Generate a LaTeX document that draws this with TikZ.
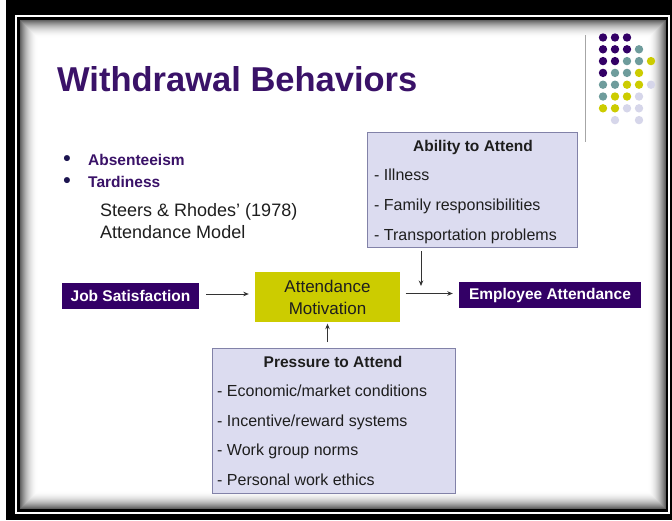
\documentclass[tikz,border=0pt]{standalone}
\usepackage{fontspec}
\setmainfont{Liberation Sans}
\usetikzlibrary{arrows.meta}

\definecolor{deeppurple}{HTML}{330066}
\definecolor{titlepurple}{HTML}{3A1268}
\definecolor{olive}{HTML}{CCCC00}
\definecolor{lavfill}{HTML}{DCDCF0}
\definecolor{lavedge}{HTML}{8282A8}
\definecolor{tealdot}{HTML}{6E9C9C}
\definecolor{lavdot}{HTML}{D6D6EA}
\definecolor{arrowgray}{HTML}{333333}
\definecolor{bodytext}{HTML}{1E1E1E}
\definecolor{bulletnavy}{HTML}{1C1450}

\begin{document}
\begin{tikzpicture}[x=1pt,y=-1pt,
  darkbox/.style={fill=deeppurple, text=white, font=\fontsize{15.5}{18}\selectfont\bfseries,
    inner sep=0pt, minimum height=26pt},
  listbox/.style={fill=lavfill, draw=lavedge, line width=1pt, inner sep=0pt},
  flow/.style={draw=arrowgray, line width=0.9pt, -{Stealth[length=5.5pt,width=4.5pt]}},
  itemtext/.style={anchor=base west, font=\fontsize{16}{19}\selectfont, text=bodytext, inner sep=0pt},
  boxhead/.style={anchor=base, font=\fontsize{15.5}{18}\selectfont\bfseries, text=bodytext, inner sep=0pt},
  bullettext/.style={anchor=base west, font=\fontsize{15.5}{18}\selectfont\bfseries, text=titlepurple, inner sep=0pt},
  bulletmark/.style={anchor=base, font=\fontsize{21}{24}\selectfont\bfseries, text=bulletnavy, inner sep=0pt},
  plaintext/.style={anchor=base west, font=\fontsize{18}{22}\selectfont, text=bodytext, inner sep=0pt}
]
\useasboundingbox (0,0) rectangle (672,520);

% --- slide frame ---
\fill[white] (0,0) rectangle (672,520);
\fill[black] (6,0) rectangle (672,520);
\draw[white, line width=1.6pt] (16,16) rectangle (669,513);
\fill[white] (20,20) rectangle (666,509);
\foreach \i [evaluate=\i as \g using {62*(1-\i/18)^2}] in {0,...,17}
  \draw[black!\g, line width=1.05pt] (20.5+\i,20.5+\i) rectangle (665.5-\i,508.5-\i);

% --- corner decoration: divider and dot grid ---
\draw[gray!70, line width=1pt] (585,35) -- (585,142);
\foreach \r/\c/\col in {
  0/0/deeppurple, 0/1/deeppurple, 0/2/deeppurple,
  1/0/deeppurple, 1/1/deeppurple, 1/2/deeppurple, 1/3/tealdot,
  2/0/deeppurple, 2/1/deeppurple, 2/2/tealdot, 2/3/tealdot, 2/4/olive,
  3/0/deeppurple, 3/1/tealdot, 3/2/tealdot, 3/3/olive,
  4/0/tealdot, 4/1/tealdot, 4/2/olive, 4/3/olive, 4/4/lavdot,
  5/0/tealdot, 5/1/olive, 5/2/olive, 5/3/lavdot,
  6/0/olive, 6/1/olive, 6/2/lavdot, 6/3/lavdot,
  7/1/lavdot, 7/3/lavdot}
  \fill[\col] (603+12*\c, 37.5+11.8*\r) circle[radius=4.2];

% --- title and bullet list ---
\node[anchor=base west, font=\fontsize{34.5}{40}\selectfont\bfseries, text=titlepurple, inner sep=0pt]
  (title) at (57,91) {Withdrawal Behaviors};
\node[bulletmark] (dotA) at (67,165) {•};
\node[bulletmark] (dotB) at (67,187) {•};
\node[bullettext] (absent) at (88,165) {Absenteeism};
\node[bullettext] (tardy) at (88,187) {Tardiness};
\node[plaintext] (model1) at (100,216) {Steers \& Rhodes’ (1978)};
\node[plaintext] (model2) at (100,238) {Attendance Model};

% --- ability box ---
\node[listbox, anchor=north west, minimum width=210pt, minimum height=115pt] (ability) at (367,132) {};
\node[boxhead] (abhead) at (473,151.7) {Ability to Attend};
\node[itemtext] (ab1) at (374,180.7) {- Illness};
\node[itemtext] (ab2) at (374,210.7) {- Family responsibilities};
\node[itemtext] (ab3) at (374,240) {- Transportation problems};

% --- pressure box ---
\node[listbox, anchor=north west, minimum width=243pt, minimum height=145pt] (pressure) at (212,348) {};
\node[boxhead] (prhead) at (333,367.3) {Pressure to Attend};
\node[itemtext] (pr1) at (217,396.7) {- Economic/market conditions};
\node[itemtext] (pr2) at (217,426) {- Incentive/reward systems};
\node[itemtext] (pr3) at (217,455) {- Work group norms};
\node[itemtext] (pr4) at (217,485) {- Personal work ethics};

% --- main flow ---
\node[darkbox, minimum width=137pt] (js) at (130.5,296) {Job Satisfaction};
\node[fill=olive, text=bodytext, inner sep=0pt, minimum width=145pt, minimum height=50pt,
  align=center, font=\fontsize{17}{22}\selectfont] (am) at (327.5,297) {Attendance\\Motivation};
\node[darkbox, minimum width=182pt] (ea) at (550,295) {Employee Attendance};

\coordinate (join) at (421,286);

\draw[flow, shorten <=7pt, shorten >=6pt] ([yshift=2pt]js.east) -- ([yshift=2pt]js.east -| am.west);
\draw[flow, shorten <=5.5pt, shorten >=6pt] ([yshift=1.5pt]ea.west -| am.east) -- ([yshift=1.5pt]ea.west);
\draw[flow, shorten <=3pt] (ability.south -| join) -- (join);
\draw[flow, shorten <=6pt, shorten >=1.5pt] (pressure.north -| am.south) -- (am.south);
\end{tikzpicture}
\end{document}
